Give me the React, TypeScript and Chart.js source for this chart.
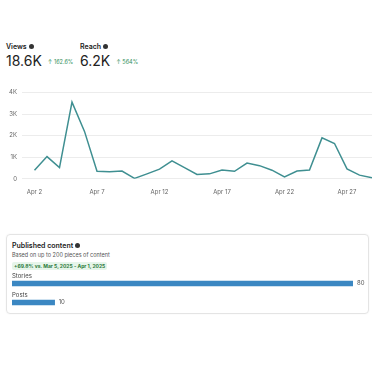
import React, { useEffect, useRef } from "react";
import { Chart, registerables } from "chart.js";

Chart.register(...registerables);

const days = [2, 3, 4, 5, 6, 7, 8, 9, 10, 11, 12, 13, 14, 15, 16, 17, 18, 19, 20, 21, 22, 23, 24, 25, 26, 27, 28, 29];
const views = [400, 1030, 520, 3560, 2200, 350, 330, 360, 20, 230, 450, 830, 520, 200, 230, 410, 350, 730, 610, 400, 90, 360, 410, 1900, 1640, 460, 170, 50];
const xTickDays = [2, 7, 12, 17, 22, 27];
const yTicks = [0, 1000, 2000, 3000, 4000];

const contentTypes = ["Stories", "Posts"];
const contentCounts = [80, 10];

const FONT = "Inter, 'Noto Sans', sans-serif";

function InfoDot() {
  return (
    <span
      style={{
        display: "inline-block",
        width: 5,
        height: 5,
        borderRadius: "50%",
        background: "#333",
        marginLeft: 2,
        verticalAlign: "middle",
        position: "relative",
        top: -1,
      }}
    />
  );
}

function LineChart() {
  const ref = useRef<HTMLCanvasElement>(null);
  useEffect(() => {
    if (!ref.current) return;
    const chart = new Chart(ref.current, {
      type: "line",
      data: {
        datasets: [
          {
            data: days.map((d, i) => ({ x: d, y: views[i] })),
            borderColor: "#3f8f91",
            borderWidth: 1.5,
            pointRadius: 0,
            tension: 0,
            fill: false,
          },
        ],
      },
      options: {
        responsive: false,
        animation: false,
        plugins: { legend: { display: false }, tooltip: { enabled: false } },
        layout: { padding: { left: 0, right: 3, top: 4, bottom: 0 } },
        scales: {
          x: {
            type: "linear",
            min: 1,
            max: 29,
            grid: { display: false },
            border: { display: false },
            afterBuildTicks: (scale: any) => {
              scale.ticks = xTickDays.map((v) => ({ value: v }));
            },
            ticks: {
              autoSkip: false,
              maxRotation: 0,
              padding: 2,
              color: "#666",
              font: { size: 6, family: FONT },
              callback: (v: any) => "Apr " + v,
            },
          },
          y: {
            min: 0,
            max: 4000,
            afterBuildTicks: (scale: any) => {
              scale.ticks = yTicks.map((v) => ({ value: v }));
            },
            afterFit: (scale: any) => {
              scale.width = 22;
            },
            grid: { color: "#ececec", lineWidth: 1, drawTicks: false },
            border: { display: false },
            ticks: {
              padding: 5,
              color: "#666",
              font: { size: 6, family: FONT },
              callback: (v: any) => (v === 0 ? "0" : v / 1000 + "K"),
            },
          },
        },
      },
    });
    return () => chart.destroy();
  }, []);
  return <canvas ref={ref} width={375} height={114} style={{ position: "absolute", left: 0, top: 84 }} />;
}

function BarChart() {
  const ref = useRef<HTMLCanvasElement>(null);
  useEffect(() => {
    if (!ref.current) return;
    const labelPlugin = {
      id: "barLabels",
      afterDatasetsDraw(chart: any) {
        const ctx = chart.ctx;
        const meta = chart.getDatasetMeta(0);
        ctx.save();
        ctx.font = "6px " + FONT;
        meta.data.forEach((bar: any, i: number) => {
          ctx.fillStyle = "#444";
          ctx.textAlign = "left";
          ctx.textBaseline = "middle";
          ctx.fillText(contentTypes[i], chart.chartArea.left, bar.y - 7);
          ctx.fillStyle = "#555";
          ctx.fillText(String(contentCounts[i]), bar.x + 4, bar.y);
        });
        ctx.restore();
      },
    };
    const chart = new Chart(ref.current, {
      type: "bar",
      data: {
        labels: contentTypes,
        datasets: [
          {
            data: contentCounts,
            backgroundColor: "#3b87c2",
            barThickness: 5,
            borderWidth: 0,
          },
        ],
      },
      options: {
        indexAxis: "y",
        responsive: false,
        animation: false,
        plugins: { legend: { display: false }, tooltip: { enabled: false } },
        layout: { padding: { left: 0, right: 16, top: 1, bottom: 1 } },
        scales: {
          x: { display: false, min: 0, max: 80 },
          y: { display: false },
        },
      },
      plugins: [labelPlugin],
    });
    return () => chart.destroy();
  }, []);
  return <canvas ref={ref} width={357} height={40} style={{ position: "absolute", left: 12, top: 273 }} />;
}

export default function App() {
  return (
    <div style={{ position: "absolute", left: 0, top: 0, width: 375, height: 375, background: "#fff", fontFamily: FONT, color: "#222" }}>
      <div style={{ position: "absolute", left: 6, top: 42, fontSize: 7, fontWeight: 600 }}>
        Views
        <InfoDot />
      </div>
      <div style={{ position: "absolute", left: 6, top: 52, fontSize: 14, fontWeight: 400, lineHeight: "18px" }}>
        18.6K
        <span style={{ fontSize: 5.5, color: "#2f8f5b", marginLeft: 6, verticalAlign: "middle" }}>↑ 162.6%</span>
      </div>
      <div style={{ position: "absolute", left: 80, top: 42, fontSize: 7, fontWeight: 600 }}>
        Reach
        <InfoDot />
      </div>
      <div style={{ position: "absolute", left: 80, top: 52, fontSize: 14, fontWeight: 400, lineHeight: "18px" }}>
        6.2K
        <span style={{ fontSize: 5.5, color: "#2f8f5b", marginLeft: 6, verticalAlign: "middle" }}>↑ 564%</span>
      </div>
      <LineChart />
      <div
        style={{
          position: "absolute",
          left: 6,
          top: 234,
          width: 361,
          height: 78,
          border: "1px solid #e4e4e4",
          borderRadius: 4,
          boxShadow: "0 0 2px rgba(0,0,0,0.05)",
        }}
      />
      <div style={{ position: "absolute", left: 12, top: 241, fontSize: 7, fontWeight: 600 }}>
        Published content
        <InfoDot />
      </div>
      <div style={{ position: "absolute", left: 12, top: 252, fontSize: 5.5, color: "#555" }}>Based on up to 200 pieces of content</div>
      <div
        style={{
          position: "absolute",
          left: 12,
          top: 262,
          height: 8,
          lineHeight: "8px",
          padding: "0 2px",
          fontSize: 5,
          fontWeight: 700,
          color: "#2b7a3b",
          background: "#e6f5ea",
          borderRadius: 2,
        }}
      >
        +69.8% vs. Mar 5, 2025 - Apr 1, 2025
      </div>
      <BarChart />
    </div>
  );
}
